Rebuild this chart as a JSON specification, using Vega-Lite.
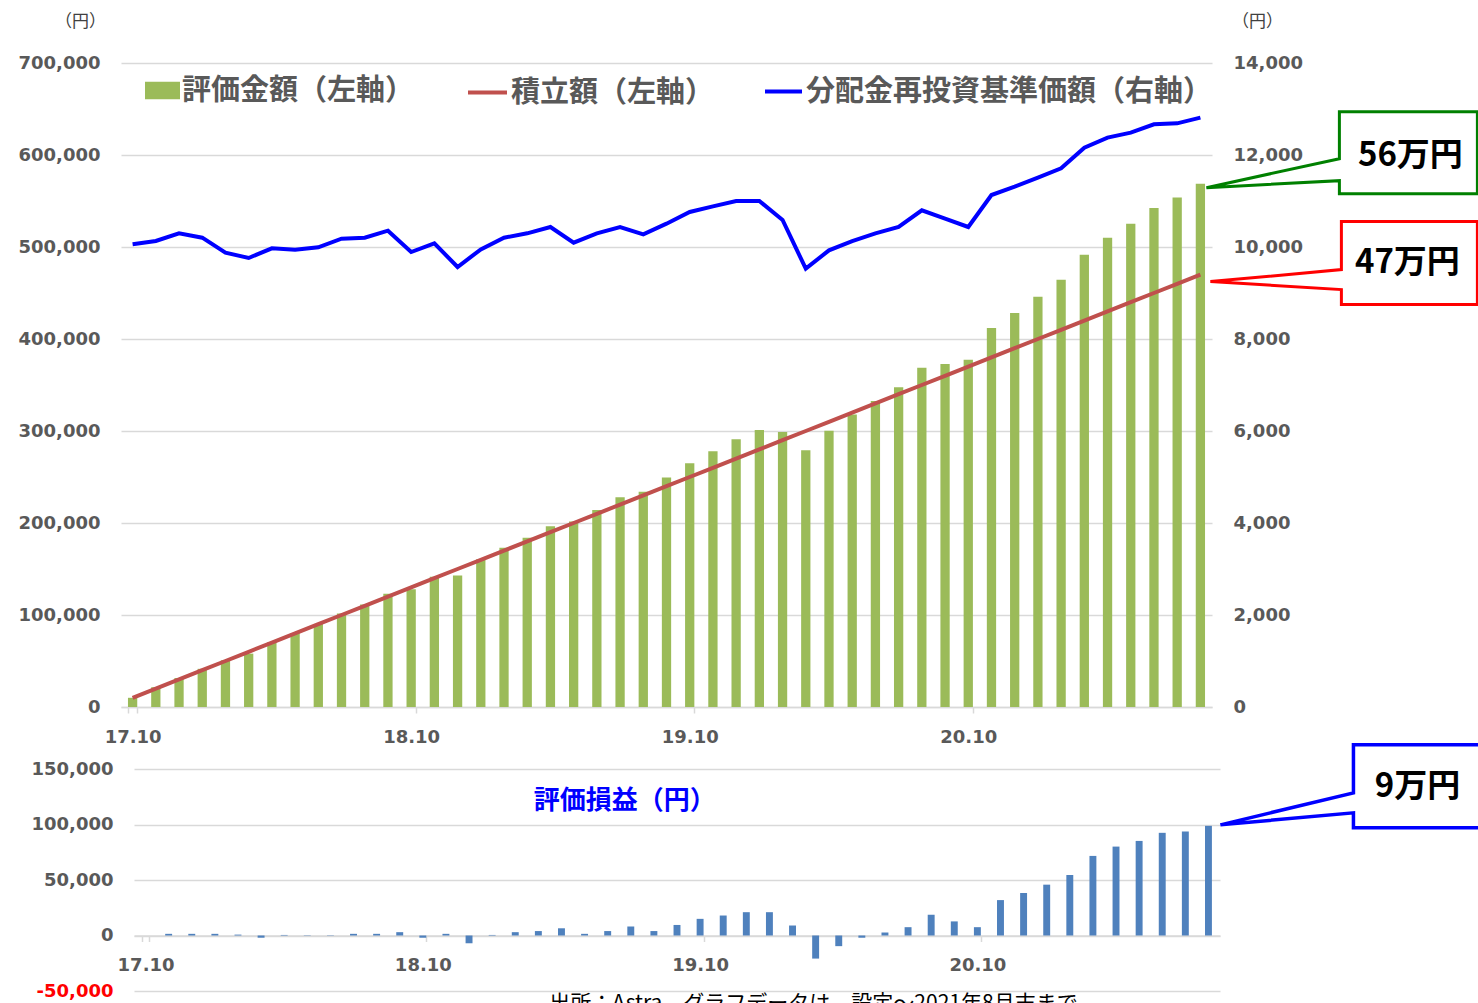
{
  "$schema": "https://vega.github.io/schema/vega-lite/v6.json",
  "padding": {"left": 18, "top": 12, "right": 0, "bottom": 0},
  "background": "white",
  "spacing": -9,
  "config": {
    "view": {"stroke": null},
    "axis": {"labelFont": "DejaVu Sans", "labelFontWeight": "bold", "labelFontSize": 18, "labelColor": "#595959", "gridColor": "#d9d9d9", "gridWidth": 1.5, "domainColor": "#d9d9d9", "tickColor": "#d9d9d9"}
  },
  "datasets": {
    "d": [
      {"month": "17.10", "eval": 10000, "accum": 10000, "nav": 10059, "profit": 0},
      {"month": "17.11", "eval": 21500, "accum": 20000, "nav": 10130, "profit": 1500},
      {"month": "17.12", "eval": 31500, "accum": 30000, "nav": 10297, "profit": 1500},
      {"month": "18.01", "eval": 41500, "accum": 40000, "nav": 10203, "profit": 1500},
      {"month": "18.02", "eval": 50800, "accum": 50000, "nav": 9877, "profit": 800},
      {"month": "18.03", "eval": 58000, "accum": 60000, "nav": 9761, "profit": -2000},
      {"month": "18.04", "eval": 70500, "accum": 70000, "nav": 9971, "profit": 500},
      {"month": "18.05", "eval": 80300, "accum": 80000, "nav": 9942, "profit": 300},
      {"month": "18.06", "eval": 90300, "accum": 90000, "nav": 9993, "profit": 300},
      {"month": "18.07", "eval": 101500, "accum": 100000, "nav": 10181, "profit": 1500},
      {"month": "18.08", "eval": 111500, "accum": 110000, "nav": 10203, "profit": 1500},
      {"month": "18.09", "eval": 123000, "accum": 120000, "nav": 10355, "profit": 3000},
      {"month": "18.10", "eval": 128000, "accum": 130000, "nav": 9891, "profit": -2000},
      {"month": "18.11", "eval": 141500, "accum": 140000, "nav": 10080, "profit": 1500},
      {"month": "18.12", "eval": 143000, "accum": 150000, "nav": 9565, "profit": -7000},
      {"month": "19.01", "eval": 160500, "accum": 160000, "nav": 9949, "profit": 500},
      {"month": "19.02", "eval": 173000, "accum": 170000, "nav": 10203, "profit": 3000},
      {"month": "19.03", "eval": 184000, "accum": 180000, "nav": 10297, "profit": 4000},
      {"month": "19.04", "eval": 196500, "accum": 190000, "nav": 10435, "profit": 6500},
      {"month": "19.05", "eval": 201500, "accum": 200000, "nav": 10094, "profit": 1500},
      {"month": "19.06", "eval": 214000, "accum": 210000, "nav": 10297, "profit": 4000},
      {"month": "19.07", "eval": 228000, "accum": 220000, "nav": 10435, "profit": 8000},
      {"month": "19.08", "eval": 234000, "accum": 230000, "nav": 10275, "profit": 4000},
      {"month": "19.09", "eval": 249500, "accum": 240000, "nav": 10507, "profit": 9500},
      {"month": "19.10", "eval": 265000, "accum": 250000, "nav": 10761, "profit": 15000},
      {"month": "19.11", "eval": 278000, "accum": 260000, "nav": 10884, "profit": 18000},
      {"month": "19.12", "eval": 291000, "accum": 270000, "nav": 11000, "profit": 21000},
      {"month": "20.01", "eval": 301000, "accum": 280000, "nav": 11000, "profit": 21000},
      {"month": "20.02", "eval": 299000, "accum": 290000, "nav": 10587, "profit": 9000},
      {"month": "20.03", "eval": 279200, "accum": 300000, "nav": 9529, "profit": -20800},
      {"month": "20.04", "eval": 300400, "accum": 310000, "nav": 9928, "profit": -9600},
      {"month": "20.05", "eval": 318000, "accum": 320000, "nav": 10130, "profit": -2000},
      {"month": "20.06", "eval": 332700, "accum": 330000, "nav": 10297, "profit": 2700},
      {"month": "20.07", "eval": 347500, "accum": 340000, "nav": 10435, "profit": 7500},
      {"month": "20.08", "eval": 368700, "accum": 350000, "nav": 10797, "profit": 18700},
      {"month": "20.09", "eval": 372700, "accum": 360000, "nav": 10616, "profit": 12700},
      {"month": "20.10", "eval": 377500, "accum": 370000, "nav": 10435, "profit": 7500},
      {"month": "20.11", "eval": 411900, "accum": 380000, "nav": 11130, "profit": 31900},
      {"month": "20.12", "eval": 428300, "accum": 390000, "nav": 11311, "profit": 38300},
      {"month": "21.01", "eval": 445800, "accum": 400000, "nav": 11507, "profit": 45800},
      {"month": "21.02", "eval": 464500, "accum": 410000, "nav": 11710, "profit": 54500},
      {"month": "21.03", "eval": 491700, "accum": 420000, "nav": 12159, "profit": 71700},
      {"month": "21.04", "eval": 510100, "accum": 430000, "nav": 12377, "profit": 80100},
      {"month": "21.05", "eval": 525200, "accum": 440000, "nav": 12486, "profit": 85200},
      {"month": "21.06", "eval": 542500, "accum": 450000, "nav": 12667, "profit": 92500},
      {"month": "21.07", "eval": 553700, "accum": 460000, "nav": 12688, "profit": 93700},
      {"month": "21.08", "eval": 568800, "accum": 470000, "nav": 12812, "profit": 98800}
    ]
  },
  "vconcat": [
    {
      "width": 1091,
      "height": 644,
      "data": {"name": "d"},
      "layer": [
        {
          "mark": {"type": "bar", "color": "#9BBB59"},
          "encoding": {
            "x": {"field": "month", "type": "ordinal", "scale": {"paddingInner": 0.6, "paddingOuter": 0.3},
              "axis": {"values": ["17.10", "18.10", "19.10", "20.10"], "title": null, "labelAngle": 0, "tickBand": "extent", "tickExtra": false, "ticks": true, "tickSize": 6, "tickWidth": 1.5, "labelPadding": 15, "domainWidth": 1.5, "grid": false}},
            "y": {"field": "eval", "type": "quantitative", "scale": {"domain": [0, 700000], "nice": false, "zero": false},
              "axis": {"title": "（円）", "titleAngle": 0, "titleX": -41, "titleY": -42, "titleAlign": "center", "titleBaseline": "middle", "titleFont": "Noto Sans CJK JP", "titleFontSize": 17, "titleFontWeight": "normal", "titleColor": "#404040", "values": [0, 100000, 200000, 300000, 400000, 500000, 600000, 700000], "format": ",d", "labelPadding": 21, "ticks": false, "domain": false, "grid": true}},
            "color": {"datum": "評価金額（左軸）", "type": "nominal", "scale": {"range": ["#9BBB59"]},
              "legend": {"orient": "none", "legendX": 24, "legendY": 10, "title": null, "symbolType": "M-1,-0.5L1,-0.5L1,0.5L-1,0.5Z", "symbolSize": 1225, "symbolStrokeWidth": 0, "labelFont": "Noto Sans CJK JP", "labelFontSize": 29, "labelFontWeight": "bold", "labelColor": "#595959", "labelLimit": 1000, "padding": 0, "labelOffset": 2}}
          }
        },
        {
          "mark": {"type": "line", "color": "#C0504D", "strokeWidth": 4},
          "encoding": {
            "x": {"field": "month", "type": "ordinal"},
            "y": {"field": "accum", "type": "quantitative", "scale": {"domain": [0, 700000], "nice": false, "zero": false}, "axis": null},
            "color": {"datum": "積立額（左軸）", "type": "nominal", "scale": {"range": ["#C0504D"]},
              "legend": {"orient": "none", "legendX": 345, "legendY": 8, "title": null, "symbolType": "stroke", "symbolSize": 1521, "symbolStrokeWidth": 4, "labelFont": "Noto Sans CJK JP", "labelFontSize": 29, "labelFontWeight": "bold", "labelColor": "#595959", "labelLimit": 1000, "padding": 0, "labelOffset": 2}}
          }
        },
        {
          "mark": {"type": "line", "color": "#0000FF", "strokeWidth": 4},
          "encoding": {
            "x": {"field": "month", "type": "ordinal"},
            "y": {"field": "nav", "type": "quantitative", "scale": {"domain": [0, 14000], "nice": false, "zero": false},
              "axis": {"orient": "right", "title": "（円）", "titleAngle": 0, "titleX": 45, "titleY": -42, "titleAlign": "center", "titleBaseline": "middle", "titleFont": "Noto Sans CJK JP", "titleFontSize": 17, "titleFontWeight": "normal", "titleColor": "#404040", "values": [0, 2000, 4000, 6000, 8000, 10000, 12000, 14000], "format": ",d", "labelPadding": 21, "ticks": false, "domain": false, "grid": false}},
            "color": {"datum": "分配金再投資基準価額（右軸）", "type": "nominal", "scale": {"range": ["#0000FF"]},
              "legend": {"orient": "none", "legendX": 642, "legendY": 8, "title": null, "symbolType": "stroke", "symbolSize": 1369, "symbolStrokeWidth": 4, "labelFont": "Noto Sans CJK JP", "labelFontSize": 29, "labelFontWeight": "bold", "labelColor": "#595959", "labelLimit": 1000, "padding": 0, "labelOffset": 2}}
          }
        },
        {
          "transform": [{"filter": "datum.month == '21.08'"}],
          "mark": {"type": "point", "shape": "M6,4L139,-25L139,-72L277,-72L277,10L139,10L139,-3Z", "size": 4, "filled": true, "fill": "white", "stroke": "#008000", "strokeWidth": 3, "opacity": 1, "strokeJoin": "miter"},
          "encoding": {
            "x": {"field": "month", "type": "ordinal"},
            "y": {"field": "eval", "type": "quantitative", "scale": {"domain": [0, 700000], "nice": false, "zero": false}, "axis": null}
          }
        },
        {
          "transform": [{"filter": "datum.month == '21.08'"}],
          "mark": {"type": "text", "text": "56万円", "dx": 210, "dy": -28, "font": "Noto Sans CJK JP", "fontSize": 33, "fontWeight": "bold", "color": "#000000", "align": "center", "baseline": "middle"},
          "encoding": {
            "x": {"field": "month", "type": "ordinal"},
            "y": {"field": "eval", "type": "quantitative", "scale": {"domain": [0, 700000], "nice": false, "zero": false}, "axis": null}
          }
        },
        {
          "transform": [{"filter": "datum.month == '21.08'"}],
          "mark": {"type": "point", "shape": "M10,7L141,-5L141,-53L277,-53L277,30L141,30L141,15Z", "size": 4, "filled": true, "fill": "white", "stroke": "#FF0000", "strokeWidth": 3, "opacity": 1, "strokeJoin": "miter"},
          "encoding": {
            "x": {"field": "month", "type": "ordinal"},
            "y": {"field": "accum", "type": "quantitative", "scale": {"domain": [0, 700000], "nice": false, "zero": false}, "axis": null}
          }
        },
        {
          "transform": [{"filter": "datum.month == '21.08'"}],
          "mark": {"type": "text", "text": "47万円", "dx": 207, "dy": -12, "font": "Noto Sans CJK JP", "fontSize": 33, "fontWeight": "bold", "color": "#000000", "align": "center", "baseline": "middle"},
          "encoding": {
            "x": {"field": "month", "type": "ordinal"},
            "y": {"field": "accum", "type": "quantitative", "scale": {"domain": [0, 700000], "nice": false, "zero": false}, "axis": null}
          }
        }
      ],
      "resolve": {"scale": {"y": "independent", "color": "independent"}, "axis": {"y": "independent"}, "legend": {"color": "independent"}}
    },
    {
      "width": 1099,
      "height": 222,
      "data": {"name": "d"},
      "layer": [
        {
          "mark": {"type": "bar", "color": "#4F81BD"},
          "encoding": {
            "x": {"field": "month", "type": "ordinal", "scale": {"range": [13, 1099], "paddingInner": 0.7, "paddingOuter": 0.35},
              "axis": {"values": ["17.10", "18.10", "19.10", "20.10"], "offset": -55.5, "title": "出所：Astra、グラフデータは、設定〜2021年8月末まで", "titleX": 692, "titleY": 57, "titleAlign": "center", "titleBaseline": "top", "titleFont": "Noto Sans CJK JP", "titleFontSize": 21, "titleFontWeight": "normal", "titleColor": "#000000", "labelAngle": 0, "tickBand": "extent", "tickExtra": false, "ticks": true, "tickSize": 6, "tickWidth": 1.5, "labelPadding": 15, "domainWidth": 1.5, "grid": false}},
            "y": {"field": "profit", "type": "quantitative", "scale": {"domain": [-50000, 150000], "nice": false, "zero": false, "padding": 0},
              "axis": {"title": null, "values": [-50000, 0, 50000, 100000, 150000], "format": ",d", "labelExpr": "replace(datum.label, '−', '-')", "labelPadding": 8, "ticks": false, "domain": false, "grid": true,
                "labelColor": {"condition": {"test": "datum.value < 0", "value": "#FF0000"}, "value": "#595959"}}}
          }
        },
        {
          "transform": [{"filter": "datum.month == '19.06'"}],
          "mark": {"type": "text", "text": "評価損益（円）", "dx": 17, "font": "Noto Sans CJK JP", "fontSize": 26, "fontWeight": "bold", "color": "#0000FF", "align": "center", "baseline": "middle"},
          "encoding": {
            "x": {"field": "month", "type": "ordinal"},
            "y": {"datum": 121000, "type": "quantitative"}
          }
        },
        {
          "transform": [{"filter": "datum.month == '21.08'"}],
          "mark": {"type": "point", "shape": "M12,-1L145,-33L145,-81L272,-81L272,2L145,2L145,-13Z", "size": 4, "filled": true, "fill": "white", "stroke": "#0000FF", "strokeWidth": 3.5, "opacity": 1, "strokeJoin": "miter"},
          "encoding": {
            "x": {"field": "month", "type": "ordinal"},
            "y": {"field": "profit", "type": "quantitative"}
          }
        },
        {
          "transform": [{"filter": "datum.month == '21.08'"}],
          "mark": {"type": "text", "text": "9万円", "dx": 209, "dy": -39, "font": "Noto Sans CJK JP", "fontSize": 33, "fontWeight": "bold", "color": "#000000", "align": "center", "baseline": "middle"},
          "encoding": {
            "x": {"field": "month", "type": "ordinal"},
            "y": {"field": "profit", "type": "quantitative"}
          }
        }
      ]
    }
  ]
}
